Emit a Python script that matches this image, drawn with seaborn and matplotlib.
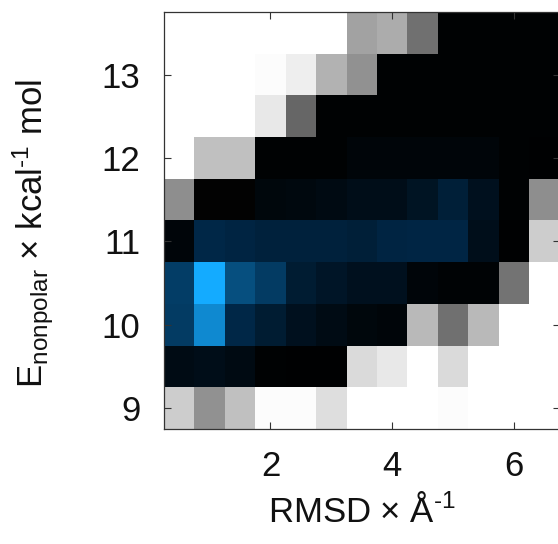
import numpy as np
import pandas as pd
import matplotlib
matplotlib.use("Agg")
import matplotlib.pyplot as plt
from matplotlib.colors import LinearSegmentedColormap
import seaborn as sns

# ---- data ----
rmsd_centers = [0.5, 1.0, 1.5, 2.0, 2.5, 3.0, 3.5, 4.0, 4.5, 5.0, 5.5, 6.0, 6.5]
energy_centers = [13.5, 13.0, 12.5, 12.0, 11.5, 11.0, 10.5, 10.0, 9.5, 9.0]

e_13_5 = [0, 0, 0, 0, 0, 0, 11, 10, 17, 31, 31, 31, 31]
e_13_0 = [0, 0, 0, 0.5, 2, 9, 13, 31, 31, 31, 31, 31, 31]
e_12_5 = [0, 0, 0, 3, 18, 31, 31, 31, 31, 31, 31, 31, 31]
e_12_0 = [0, 7.5, 7.5, 31, 31, 31, 33, 33, 33, 33, 33, 31, 30.5]
e_11_5 = [13.5, 30, 30, 34, 35, 36, 38, 38, 42, 49, 40, 31, 13.5]
e_11_0 = [33, 54, 52, 50, 50, 50, 49, 52, 53, 53, 39, 30.5, 6]
e_10_5 = [62, 100, 68, 61, 47, 43, 40, 40, 33, 32, 32, 16.5, 0]
e_10_0 = [61, 88, 54, 47, 40, 37, 34, 33, 8.5, 17, 8.5, 0, 0]
e_9_5 = [37, 38, 36, 31, 30.5, 30.5, 4.5, 3, 0, 4.5, 0, 0, 0]
e_9_0 = [6, 13, 7.5, 0.5, 0.5, 4, 0, 0, 0, 0.5, 0, 0, 0]

density_rows = [e_13_5, e_13_0, e_12_5, e_12_0, e_11_5,
                e_11_0, e_10_5, e_10_0, e_9_5, e_9_0]

x_ticks = [2, 4, 6]
y_ticks = [9, 10, 11, 12, 13]

# long-form table built from the arrays above
records = []
for e, row in zip(energy_centers, density_rows):
    for r, v in zip(rmsd_centers, row):
        records.append({"rmsd": r, "energy": e, "w": v})
df = pd.DataFrame(records)

# ---- styling ----
sns.set_style("white")
plt.rcParams["font.family"] = ["Liberation Sans", "DejaVu Sans"]
plt.rcParams["mathtext.fontset"] = "custom"
plt.rcParams["mathtext.rm"] = "Liberation Sans"
plt.rcParams["mathtext.it"] = "Liberation Sans:italic"
plt.rcParams["mathtext.default"] = "regular"

cmap = LinearSegmentedColormap.from_list(
    "wgkb",
    [(0.0, (1, 1, 1)), (0.30, (0, 0, 0)),
     (0.55, (0.0, 0.16, 0.29)), (1.0, (0.08, 0.67, 1.0))],
)

fig = plt.figure(figsize=(5.58, 5.44), dpi=100)
W, H = 558.0, 544.0
left, right, top, bottom = 164, 559.5, 12, 429
ax = fig.add_axes([left / W, 1 - bottom / H, (right - left) / W, (bottom - top) / H])

sns.histplot(
    data=df, x="rmsd", y="energy", weights="w",
    binwidth=0.5, binrange=((0.25, 6.75), (8.75, 13.75)),
    cmap=cmap, ax=ax,
)
for coll in ax.collections:
    coll.set_clim(0, 100)

ax.set_axisbelow(False)
ax.set_xlim(0.25, 6.75)
ax.set_ylim(8.75, 13.75)
ax.set_xticks(x_ticks)
ax.set_xticklabels([str(t) for t in x_ticks])
ax.set_yticks(y_ticks)
ax.set_yticklabels([str(t) for t in y_ticks])

ax.tick_params(direction="in", length=5, width=0.8,
               left=True, bottom=True, top=True, right=True,
               labelsize=25, colors="#333333", labelcolor="#111111")
ax.tick_params(axis="y", pad=17)
ax.tick_params(axis="x", pad=15)
for s in ax.spines.values():
    s.set_visible(True)
    s.set_linewidth(0.9)
    s.set_color("#333333")
    s.set_zorder(5)

ax.set_xlabel("RMSD × Å$^{\u20101}$", fontsize=25, color="#111111")
ax.set_ylabel("E$_{nonpolar}$ × kcal$^{\u20101}$ mol", fontsize=25, color="#111111")
ax.xaxis.set_label_coords(0.5, -0.155)
ax.yaxis.set_label_coords(-0.274, 0.468)

fig.savefig("out.png", dpi=100)
